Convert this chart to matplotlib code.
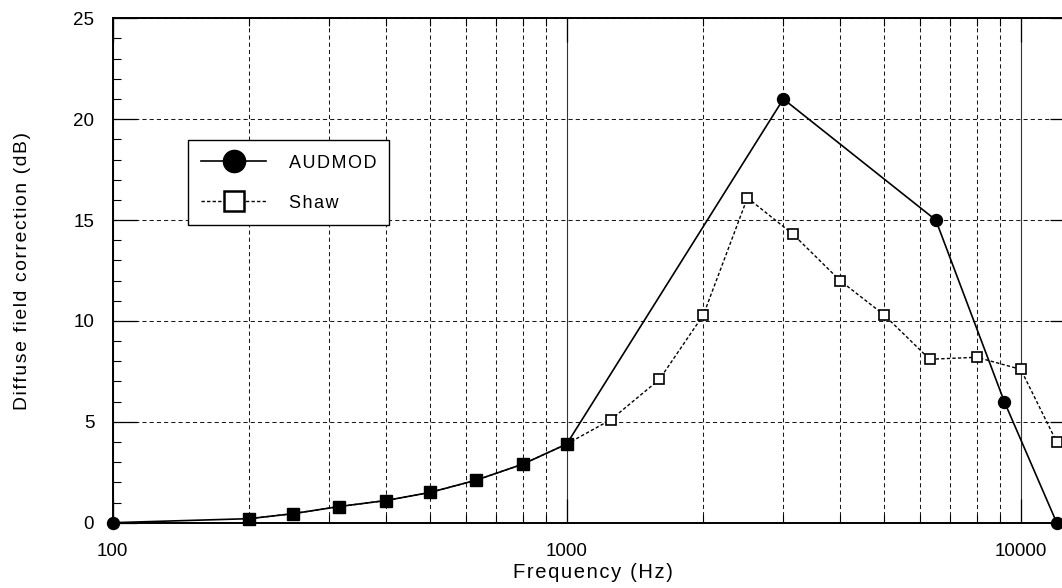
import matplotlib
matplotlib.use("Agg")
import matplotlib.pyplot as plt
from matplotlib.lines import Line2D
from matplotlib.ticker import FixedLocator, FuncFormatter, LogLocator, MultipleLocator, NullFormatter

# Diffuse-field correction curves (frequency in Hz, correction in dB)
audmod_freq = [100, 200, 250, 315, 400, 500, 630, 800, 1000, 3000, 6500, 9200, 12000]
audmod_db = [0.0, 0.2, 0.45, 0.8, 1.1, 1.5, 2.1, 2.9, 3.9, 21.0, 15.0, 6.0, 0.0]

shaw_freq = [200, 250, 315, 400, 500, 630, 800, 1000, 1250, 1600, 2000, 2500,
             3150, 4000, 5000, 6300, 8000, 10000, 12000]
shaw_db = [0.2, 0.45, 0.8, 1.1, 1.5, 2.1, 2.9, 3.9, 5.1, 7.1, 10.3, 16.1,
           14.3, 12.0, 10.3, 8.1, 8.2, 7.6, 4.0]

x_ticks = [100, 1000, 10000]
y_ticks = [0, 5, 10, 15, 20, 25]

plt.rcParams["font.family"] = ["Liberation Sans", "DejaVu Sans"]
plt.rcParams["lines.scale_dashes"] = False

HAIR = "\u200a"


def tracked(text):
    """Spread the letters of a label slightly apart."""
    return HAIR.join(text)


W, H = 1062, 588
fig = plt.figure(figsize=(W / 100, H / 100), dpi=100)
# plot frame: left 112.7 px, bottom 522.7 px, right edge runs past the figure
ax = fig.add_axes([112.7 / W, (H - 522.7) / H, 961.3 / W, 504.4 / H])

ax.set_xscale("log")
ax.set_xlim(100, 13100)
ax.set_ylim(0, 25)

# grid: dashed minor verticals, solid decade verticals, dashed horizontals
grid_dash = (0, (3.0, 2.2))
ax.grid(which="minor", axis="x", linestyle=grid_dash, linewidth=0.75, color="#1a1a1a")
ax.grid(which="major", axis="x", linestyle="-", linewidth=0.8, color="#333333")
ax.grid(which="major", axis="y", linestyle=grid_dash, linewidth=0.75, color="#1a1a1a")
ax.set_axisbelow(True)

ax.xaxis.set_major_locator(FixedLocator(x_ticks))
ax.xaxis.set_minor_locator(LogLocator(base=10, subs=range(2, 10)))
ax.xaxis.set_major_formatter(FuncFormatter(lambda v, p: f"{int(round(v))}"))
ax.xaxis.set_minor_formatter(NullFormatter())
ax.yaxis.set_major_locator(FixedLocator(y_ticks))
ax.yaxis.set_minor_locator(MultipleLocator(1))

ax.tick_params(which="both", direction="in", top=True, right=True, color="black")
ax.tick_params(which="major", length=17, width=0.9, labelsize=13.5)
ax.tick_params(which="minor", length=5.5, width=0.8)
ax.tick_params(axis="y", which="major", pad=13.3)
ax.tick_params(axis="x", which="major", pad=14.3)
for s in ax.spines.values():
    s.set_linewidth(1.4)

# Shaw: dashed line with open squares
ax.plot(shaw_freq, shaw_db, linestyle=(0, (2.4, 1.6)), linewidth=1.0, color="black",
        marker="s", markersize=7.8, markerfacecolor="white", markeredgecolor="black",
        markeredgewidth=1.2, clip_on=False, zorder=3)

# AUDMOD: solid line
ax.plot(audmod_freq, audmod_db, linestyle="-", linewidth=1.2, color="black",
        clip_on=False, zorder=4)

shaw_pairs = set(zip(shaw_freq, shaw_db))
shared = [(f, v) for f, v in zip(audmod_freq, audmod_db) if (f, v) in shaw_pairs]
own = [(f, v) for f, v in zip(audmod_freq, audmod_db) if (f, v) not in shaw_pairs]

ax.plot([p[0] for p in own], [p[1] for p in own], linestyle="none", marker="o",
        markersize=8.6, color="black", clip_on=False, zorder=5)
ax.plot([p[0] for p in shared], [p[1] for p in shared], linestyle="none", marker="s",
        markersize=9.0, color="black", clip_on=False, zorder=5)

ax.set_xlabel(tracked("Frequency (Hz)"), fontsize=14.5, va="center")
ax.xaxis.set_label_coords(0.5, (522.7 - 572) / 504.4)
ax.set_ylabel(tracked("Diffuse field correction (dB)"), fontsize=13.9, va="center", ha="center")
ax.yaxis.set_label_coords((23 - 112.7) / 961.3, (522.7 - 271) / 504.4)

handles = [
    Line2D([], [], color="black", linewidth=1.2, marker="o", markersize=16),
    Line2D([], [], color="black", linewidth=1.0, linestyle=(0, (2.4, 1.6)), marker="s",
           markersize=15, markerfacecolor="white", markeredgewidth=1.8),
]
leg = ax.legend(handles, [tracked("AUDMOD"), tracked("Shaw")], loc="upper left",
                bbox_to_anchor=(188 / W, 1 - 140 / H), bbox_transform=fig.transFigure,
                borderaxespad=0, fontsize=13, handlelength=3.6, handleheight=1.2,
                handletextpad=1.25, borderpad=0.72, labelspacing=1.15, fancybox=False,
                framealpha=1, edgecolor="black")
leg.get_frame().set_linewidth(1.0)
leg.set_zorder(6)

fig.savefig("out.png", dpi=100)
